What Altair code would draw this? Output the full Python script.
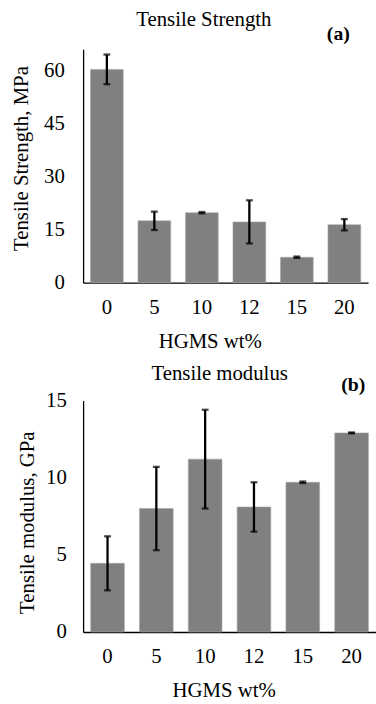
import altair as alt
import pandas as pd

hgms = ["0", "5", "10", "12", "15", "20"]
ts_mean = [60.3, 17.5, 19.8, 17.2, 7.2, 16.4]
ts_err = [4.2, 2.6, 0.2, 6.1, 0.2, 1.6]
tm_mean = [4.45, 8.0, 11.2, 8.1, 9.7, 12.9]
tm_err = [1.75, 2.7, 3.2, 1.6, 0.05, 0.03]

FONT = "Liberation Serif"
FS = 21


def make_df(mean, err):
    return pd.DataFrame({
        "hgms": hgms,
        "mean": mean,
        "lo": [m - e for m, e in zip(mean, err)],
        "hi": [m + e for m, e in zip(mean, err)],
    })


def panel(df, title, ytitle, dom, ticks, w, h, label_pad, title_pad, ytitle_y, xtitle_x,
          title_x, title_y, tag, tag_x, tag_y):
    x = alt.X("hgms:N", sort=hgms,
              scale=alt.Scale(paddingInner=0.31, paddingOuter=0.155),
              axis=alt.Axis(title="HGMS wt%", labelAngle=0, ticks=False, labelPadding=14,
                            titlePadding=13, labelFontSize=FS, titleFontSize=FS,
                            titleX=xtitle_x,
                            labelFont=FONT, titleFont=FONT, titleFontWeight="normal",
                            labelColor="black", titleColor="black",
                            domainColor="black", domainWidth=1.3))
    y = alt.Y("mean:Q", scale=alt.Scale(domain=dom, nice=False),
              axis=alt.Axis(title=ytitle, values=ticks, grid=False, ticks=False,
                            labelPadding=label_pad, titlePadding=title_pad,
                            titleY=ytitle_y,
                            labelFontSize=FS, titleFontSize=FS,
                            labelFont=FONT, titleFont=FONT, titleFontWeight="normal",
                            labelColor="black", titleColor="black",
                            domainColor="black", domainWidth=1.3))
    base = alt.Chart(df)
    bars = base.mark_bar(color="#808080", stroke="#a6a6a6", strokeWidth=0.6).encode(x=x, y=y)
    rule = base.mark_rule(color="black", strokeWidth=2.3).encode(
        x=alt.X("hgms:N", sort=hgms), y="lo:Q", y2="hi:Q")
    cap_hi = base.mark_tick(color="black", size=7, thickness=2.3).encode(
        x=alt.X("hgms:N", sort=hgms), y="hi:Q")
    cap_lo = base.mark_tick(color="black", size=7, thickness=2.3).encode(
        x=alt.X("hgms:N", sort=hgms), y="lo:Q")
    ttl = alt.Chart(pd.DataFrame({"t": [title]})).mark_text(
        font=FONT, fontSize=FS, color="black", align="center",
        baseline="middle").encode(text="t:N", x=alt.value(title_x), y=alt.value(title_y))
    lab = alt.Chart(pd.DataFrame({"t": [tag]})).mark_text(
        font=FONT, fontSize=20, fontWeight="bold", color="black", align="center",
        baseline="middle").encode(text="t:N", x=alt.value(tag_x), y=alt.value(tag_y))
    return alt.layer(bars, rule, cap_hi, cap_lo, ttl, lab).properties(width=w, height=h)


top = panel(make_df(ts_mean, ts_err), "Tensile Strength", "Tensile Strength, MPa",
            [0, 66], [0, 15, 30, 45, 60], 288, 236, 19, 12, 110, 128,
            122, -29, "(a)", 258, -15)
bottom = panel(make_df(tm_mean, tm_err), "Tensile modulus", "Tensile modulus, GPa",
               [0, 15], [0, 5, 10, 15], 296, 234, 17, 8, 123, 142,
               138, -27, "(b)", 273, -16)

chart = alt.concat(top, bottom, columns=1, spacing=12, align="none").properties(
    padding={"left": 11, "top": 6, "right": 0, "bottom": 0}
).configure_view(stroke=None)

chart.save("out.html", embed_options={"renderer": "svg", "actions": False})
